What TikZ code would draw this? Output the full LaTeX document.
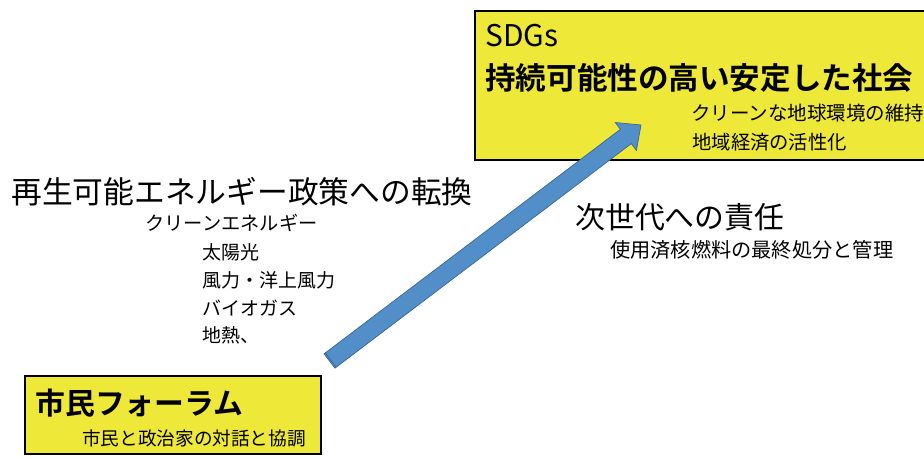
\documentclass[tikz,border=0pt]{standalone}
\usepackage{fontspec}
\setmainfont{Noto Sans CJK JP}[BoldFont={* Bold}]
\usetikzlibrary{calc,positioning}

\definecolor{boxyellow}{RGB}{238,232,56}
\definecolor{arrowblue}{RGB}{82,142,200}
\definecolor{arrowedge}{RGB}{58,104,150}

\tikzset{
  panel/.style={draw=black,line width=0.9pt,fill=boxyellow,inner sep=0pt,anchor=north west},
  head/.style={anchor=west,inner sep=0pt,font=\fontsize{17}{20}\selectfont},
  headb/.style={anchor=west,inner sep=0pt,font=\fontsize{17}{20}\selectfont\bfseries},
  item/.style={anchor=west,inner sep=0pt,font=\fontsize{#1}{14}\selectfont},
  item/.default=11,
}

\begin{document}
\begin{tikzpicture}[x=0.02cm,y=-0.02cm]
            \useasboundingbox (0,0) rectangle (924,459);
            % boxes
            \node[panel,minimum width=9.1cm,minimum height=2.98cm] (goal) at (474,10) {};
            \node[panel,minimum width=5.92cm,minimum height=1.56cm] (forum) at (24,375) {};
            % goal texts
            \node[head] (sdgs) at (485,36) {SDGs};
            \node[headb,font=\fontsize{17.4}{20}\selectfont\bfseries] (society) at (485,78) {持続可能性の高い安定した社会};
            \node[item=11.1] (clean) at (691,113) {クリーンな地球環境の維持};
            \node[item=11] (local) at (692,142) {地域経済の活性化};
            % forum texts
            \node[headb] (citizen) at (35,403) {市民フォーラム};
            \node[item=10.6] (dialog) at (82,438) {市民と政治家の対話と協調};
            % left texts
            \node[head,font=\fontsize{17.5}{20}\selectfont] (policy) at (11,192) {再生可能エネルギー政策への転換};
            \node[item=10.95] (energy) at (145,223) {クリーンエネルギー};
            \node[item=10.8] (solar) at (202,252) {太陽光};
            \node[item=10.8] (wind) at (202,280) {風力・洋上風力};
            \node[item=10.8] (biogas) at (202,308) {バイオガス};
            \node[item=10.8] (geo) at (202,335) {地熱、};
            % right texts
            \node[head] (future) at (575,217) {次世代への責任};
            \node[item=11.5] (fuel) at (610,250) {使用済核燃料の最終処分と管理};
            % arrow
            \coordinate (tail) at (329.5,361);
            \coordinate (tip) at (641,125);
            \coordinate (base) at ($(tip)!0.38cm!(tail)$);
            \filldraw[fill=arrowblue,draw=arrowedge,line width=0.4pt,line join=miter]
              ($(tail)!0.18cm!90:(tip)$) -- ($(base)!0.18cm!90:(tip)$)
              -- ($(base)!0.35cm!90:(tip)$) -- (tip)
              -- ($(base)!0.35cm!-90:(tip)$) -- ($(base)!0.18cm!-90:(tip)$)
              -- ($(tail)!0.18cm!-90:(tip)$) -- cycle;
            \draw[arrowedge,line width=0.4pt] ($(tail)!0.03cm!(tip)!0.18cm!90:(tip)$) -- ($(tail)!0.03cm!(tip)!0.18cm!-90:(tip)$);
        \end{tikzpicture}
\end{document}
